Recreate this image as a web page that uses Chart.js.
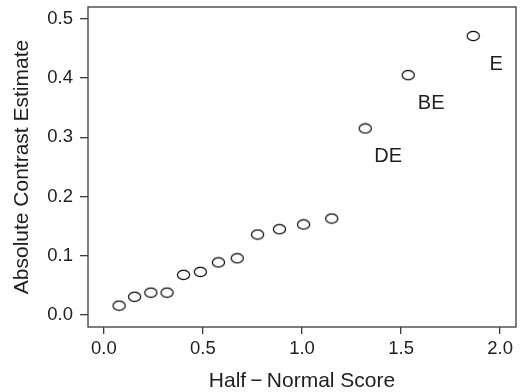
<!DOCTYPE html>
<html>
<head>
<meta charset="utf-8">
<script src="https://cdn.jsdelivr.net/npm/chart.js@4"></script>
<style>
  html, body { margin: 0; padding: 0; background: #fff; }
  #wrap { width: 523px; height: 392px; position: relative; }
</style>
</head>
<body>
<div id="wrap"><canvas id="hnChart"></canvas></div>
<script>
// values
const halfNormalScores = [0.077, 0.155, 0.237, 0.319, 0.402, 0.487, 0.578, 0.673, 0.776, 0.886, 1.008, 1.150, 1.319, 1.536, 1.864];
const contrastEstimates = [0.016, 0.031, 0.038, 0.038, 0.068, 0.073, 0.089, 0.096, 0.136, 0.145, 0.153, 0.163, 0.315, 0.405, 0.471];
const effectLabels = ['', '', '', '', '', '', '', '', '', '', '', '', 'DE', 'BE', 'E'];
const xTicks = [0.0, 0.5, 1.0, 1.5, 2.0];
const yTicks = [0.0, 0.1, 0.2, 0.3, 0.4, 0.5];

const FONT = "'Liberation Sans', Arial, Helvetica, sans-serif";
const INK = '#1e1e1e';

// open ellipse marker (the original plot's circles are a bit squashed)
function ellipseMarker() {
  const c = document.createElement('canvas');
  c.width = 15; c.height = 12;
  const g = c.getContext('2d');
  g.strokeStyle = '#000';
  g.lineWidth = 1.2;
  g.beginPath();
  g.ellipse(7.5, 6, 6.1, 4.6, 0, 0, Math.PI * 2);
  g.stroke();
  return c;
}

// box around the plotting region
const boxPlugin = {
  id: 'box',
  afterDraw(chart) {
    const a = chart.chartArea, ctx = chart.ctx;
    ctx.save();
    ctx.strokeStyle = '#3a3a3a';
    ctx.lineWidth = 1.3;
    ctx.strokeRect(a.left, a.top, a.right - a.left, a.bottom - a.top);
    ctx.restore();
  }
};

// effect names written below-right of the large effects
const labelPlugin = {
  id: 'effectLabels',
  afterDatasetsDraw(chart) {
    const ctx = chart.ctx;
    const xs = chart.scales.x, ys = chart.scales.y;
    ctx.save();
    ctx.fillStyle = INK;
    ctx.font = '20px ' + FONT;
    ctx.textAlign = 'center';
    ctx.textBaseline = 'middle';
    effectLabels.forEach((lab, i) => {
      if (!lab) return;
      const px = xs.getPixelForValue(halfNormalScores[i]);
      const py = ys.getPixelForValue(contrastEstimates[i]);
      ctx.fillText(lab, px + 23, py + 28);
    });
    ctx.restore();
  }
};

const points = halfNormalScores.map((x, i) => ({ x: x, y: contrastEstimates[i] }));

new Chart(document.getElementById('hnChart'), {
  type: 'scatter',
  data: {
    datasets: [{
      data: points,
      pointStyle: ellipseMarker(),
      pointRadius: 6,
      pointHoverRadius: 6
    }]
  },
  options: {
    responsive: true,
    maintainAspectRatio: false,
    animation: false,
    events: [],
    layout: { padding: { top: 7, right: 3, left: 0, bottom: 0 } },
    plugins: { legend: { display: false }, tooltip: { enabled: false } },
    scales: {
      x: {
        type: 'linear',
        min: -0.08,
        max: 2.08,
        afterBuildTicks(scale) { scale.ticks = xTicks.map(v => ({ value: v })); },
        afterFit(scale) {
          scale.height = 65;
          scale.paddingLeft = 0; scale.paddingRight = 0;
        },
        grid: { drawOnChartArea: false, drawTicks: true, tickLength: 7, color: '#3a3a3a', lineWidth: 1.3 },
        border: { display: false },
        ticks: {
          color: INK,
          font: { family: FONT, size: 18.5 },
          padding: 4,
          maxRotation: 0,
          callback: v => Number(v).toFixed(1)
        },
        title: {
          display: true,
          text: 'Half\u2009\u2212\u2009Normal Score',
          color: INK,
          font: { family: FONT, size: 21, lineHeight: 1.0 },
          padding: { top: 4, bottom: 0 }
        }
      },
      y: {
        type: 'linear',
        min: -0.02,
        max: 0.52,
        afterBuildTicks(scale) { scale.ticks = yTicks.map(v => ({ value: v })); },
        afterFit(scale) {
          scale.width = 88;
          scale.paddingTop = 0; scale.paddingBottom = 0;
        },
        grid: { drawOnChartArea: false, drawTicks: true, tickLength: 8, color: '#3a3a3a', lineWidth: 1.3 },
        border: { display: false },
        ticks: {
          color: INK,
          font: { family: FONT, size: 18.5 },
          padding: 7,
          callback: v => Number(v).toFixed(1)
        },
        title: {
          display: true,
          text: 'Absolute Contrast Estimate',
          color: INK,
          font: { family: FONT, size: 21, lineHeight: 1.0 },
          padding: { top: 12, bottom: 0 }
        }
      }
    }
  },
  plugins: [boxPlugin, labelPlugin]
});
</script>
</body>
</html>
